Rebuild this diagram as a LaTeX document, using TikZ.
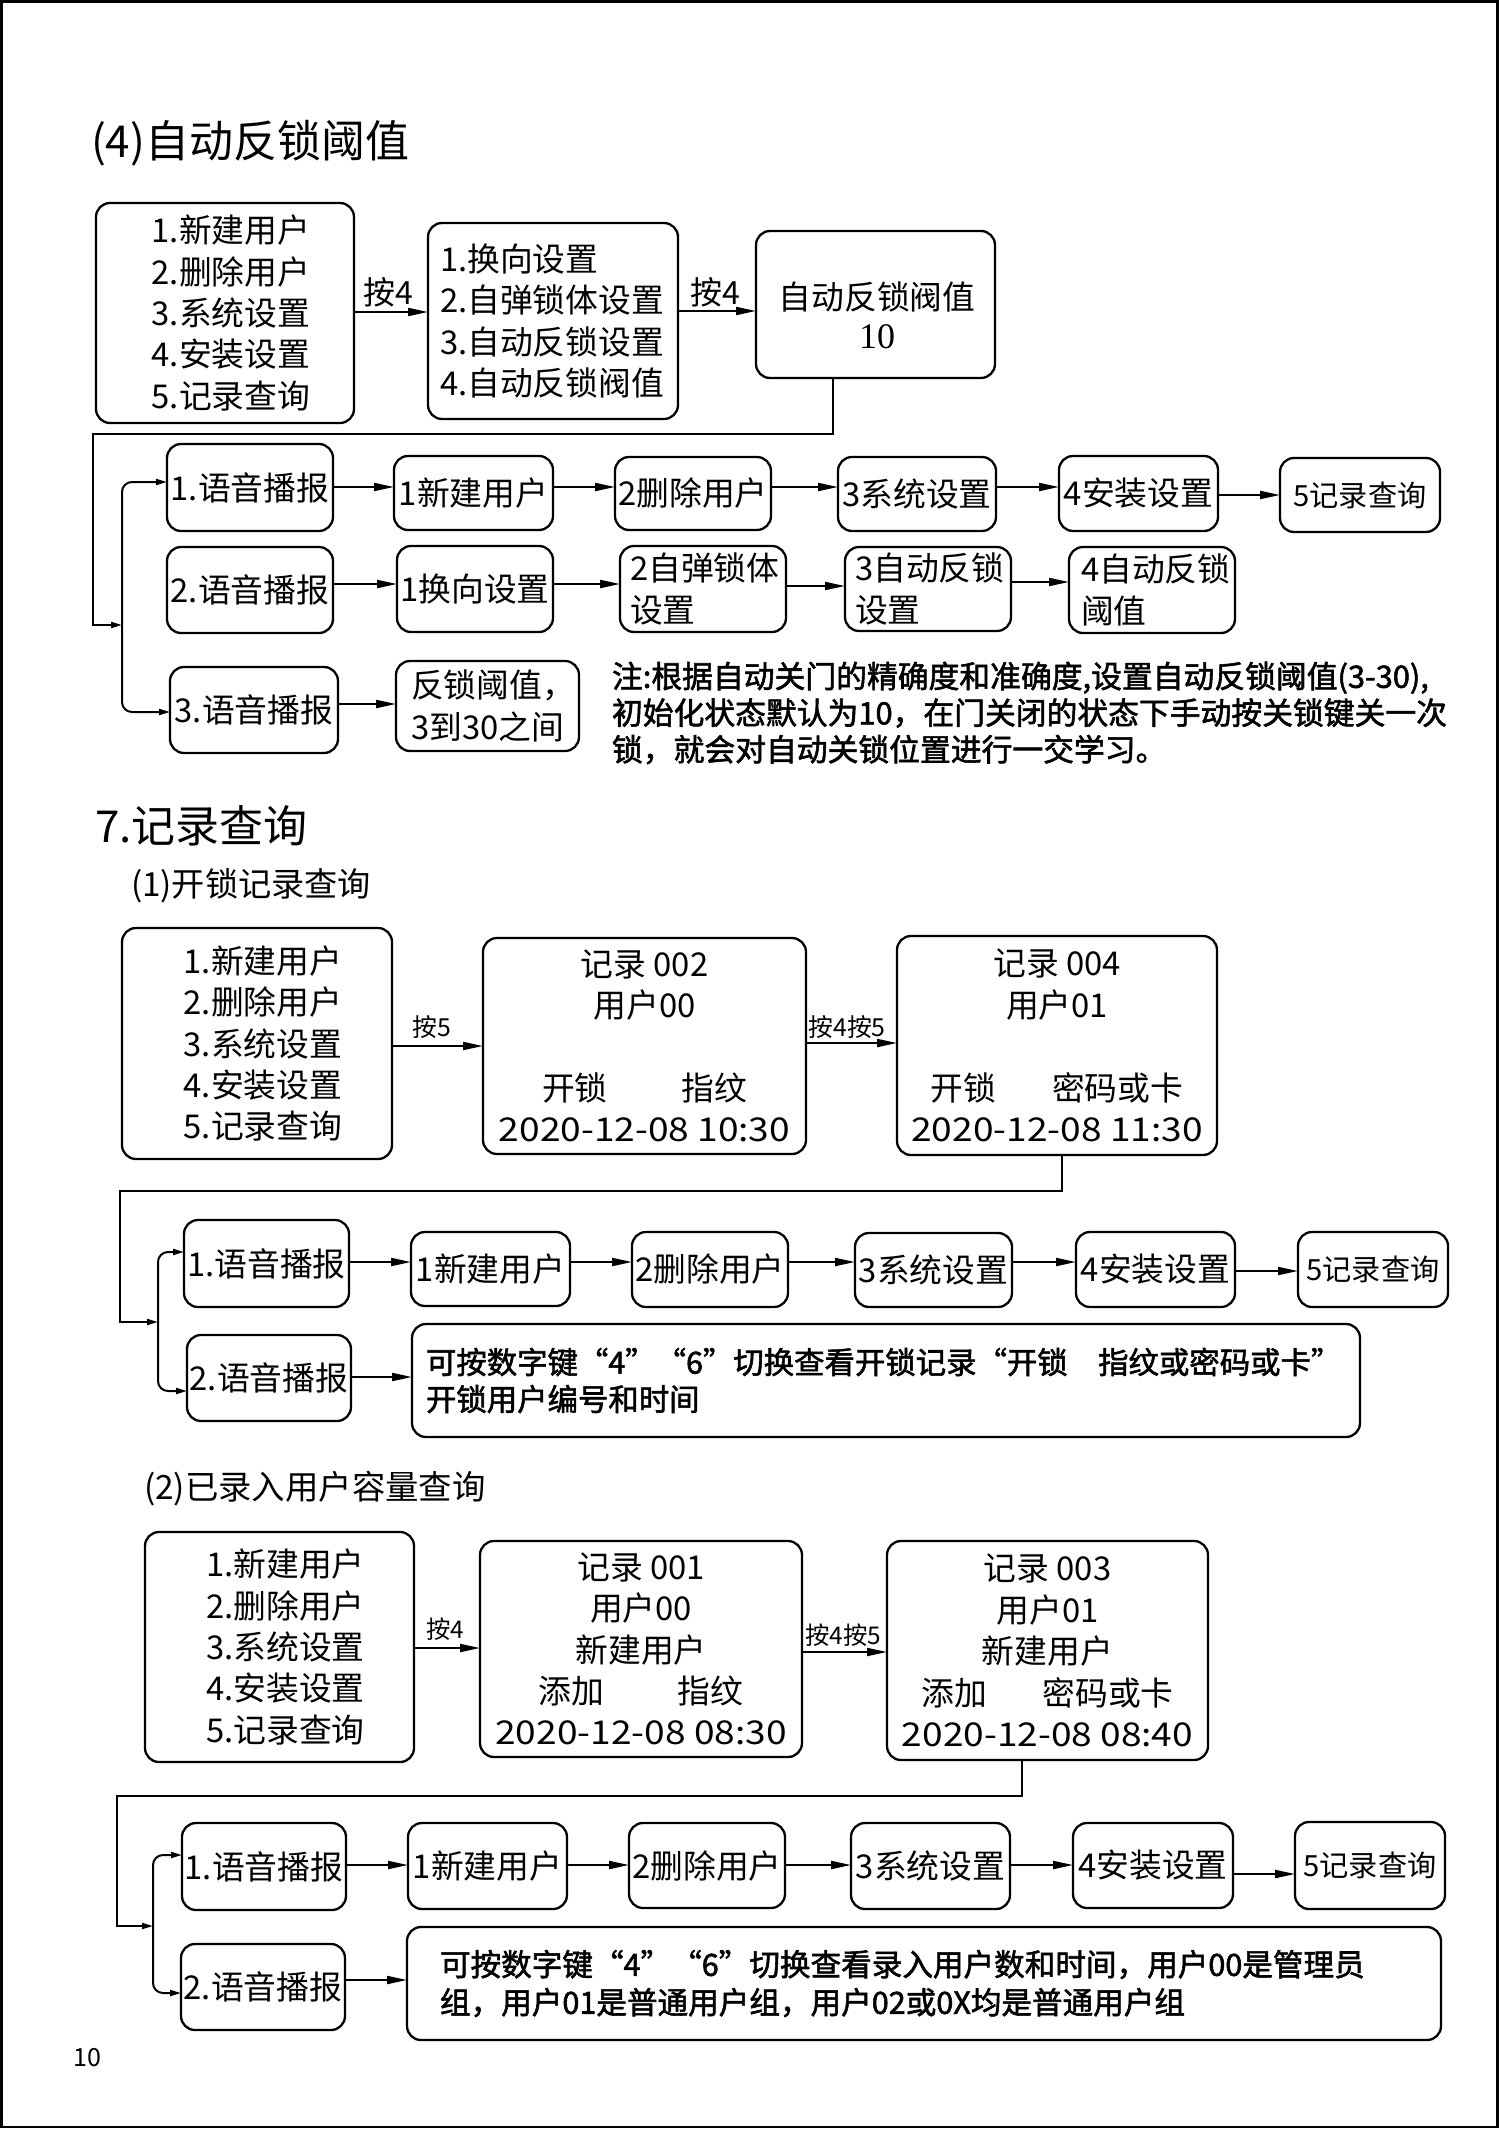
\documentclass[tikz,border=0pt]{standalone}
\usepackage{fontspec}
\usepackage{graphicx}
\setmainfont{Noto Sans CJK SC}
\newfontfamily\serifnum{Liberation Serif}
\newfontfamily\notefont{Noto Sans CJK SC}[FakeBold=1.8]
\usetikzlibrary{arrows.meta}
\newcommand\boxfont{\fontsize{16.4pt}{20.7pt}\selectfont}
\newcommand\smallboxfont{\fontsize{14.6pt}{18pt}\selectfont}
\newcommand\wide[1]{\scalebox{1.13}[1]{#1}}
\newcommand\bx[7][]{\node[box,minimum width={(#5-#3)*0.5pt},minimum height={(#6-#4)*0.5pt},#1] (#2) at ({(#3+#5)/2},{(#4+#6)/2}) {#7};}
\newcommand\harr[3]{\coordinate (tmpy) at (0,#3); \draw[arr] (#1.east |- tmpy) -- (#2.west |- tmpy);}
\tikzset{
  box/.style={draw, line width=1.15pt, rounded corners=7pt, inner sep=0pt, outer sep=0pt, align=center, font=\boxfont},
  arr/.style={-{Triangle[length=10pt,width=4pt]}, line width=1pt},
  sarr/.style={-{Triangle[length=5.5pt,width=3pt]}, line width=1pt},
  lbl/.style={inner sep=0pt, outer sep=0pt},
  title/.style={lbl, anchor=west, font=\fontsize{22pt}{26pt}\selectfont},
}
\begin{document}
\begin{tikzpicture}[x=0.5pt,y=-0.5pt]
\useasboundingbox (0,0) rectangle (1500,2129);
\draw[line width=1.25pt] (1.5,1.5) rectangle (1497.5,2127);

% ---------- section (4)
\node[title] (t1) at (91,143) {(4)自动反锁阈值};
\bx{a1}{96}{203}{354}{423}{\hspace*{6pt}1.新建用户\\\hspace*{6pt}2.删除用户\\\hspace*{6pt}3.系统设置\\\hspace*{6pt}4.安装设置\\\hspace*{6pt}5.记录查询}
\bx[align=left,text width=113pt,inner xsep=6pt]{a2}{428}{223}{678}{419}{1.换向设置\\2.自弹锁体设置\\3.自动反锁设置\\4.自动反锁阀值}
\bx{a3}{756}{231}{995}{378}{}
\node[lbl,align=center,font=\fontsize{16.4pt}{19.5pt}\selectfont] (a3t) at (877,315) {自动反锁阀值\\{\serifnum\fontsize{18pt}{19.5pt}\selectfont 10}};
\harr{a1}{a2}{312}
\node[lbl,font=\fontsize{16pt}{18pt}\selectfont] (l1) at (388,292) {按4};
\harr{a2}{a3}{311}
\node[lbl,font=\fontsize{16pt}{18pt}\selectfont] (l2) at (715,292) {按4};

\bx{b1}{167}{444}{333}{531}{1.语音播报}
\bx{b1b}{394}{456}{553}{530}{1新建用户}
\bx{b1c}{615}{457}{771}{530}{2删除用户}
\bx{b1d}{838}{457}{996}{531}{3系统设置}
\bx{b1e}{1059}{456}{1218}{531}{4安装设置}
\bx[font=\smallboxfont]{b1f}{1280}{458}{1440}{532}{5记录查询}
\harr{b1}{b1b}{487}\harr{b1b}{b1c}{487}\harr{b1c}{b1d}{487}\harr{b1d}{b1e}{487}\harr{b1e}{b1f}{495}

\bx{b2}{167}{547}{333}{633}{2.语音播报}
\bx{b2b}{397}{546}{553}{632}{1换向设置}
\bx[align=left,text width=73pt,inner xsep=5pt]{b2c}{620}{546}{786}{632}{2自弹锁体\\设置}
\bx[align=left,text width=73pt,inner xsep=5pt]{b2d}{845}{547}{1011}{631}{3自动反锁\\设置}
\bx[align=left,text width=71pt,inner xsep=6pt]{b2e}{1069}{547}{1235}{633}{4自动反锁\\阈值}
\harr{b2}{b2b}{584}\harr{b2b}{b2c}{584}\harr{b2c}{b2d}{586}\harr{b2d}{b2e}{582}

\bx{b3}{170}{667}{338}{753}{3.语音播报}
\bx[align=left,text width=76.5pt,inner xsep=7.5pt]{b3b}{397}{661}{578}{751}{反锁阈值，\\3到30之间}
\harr{b3}{b3b}{704}

\node[lbl,align=left,anchor=west,font=\notefont\fontsize{15.4pt}{18.3pt}\selectfont] (n1) at (612,713) {注:根据自动关门的精确度和准确度,设置自动反锁阈值(3-30),\\初始化状态默认为10，在门关闭的状态下手动按关锁键关一次\\锁，就会对自动关锁位置进行一交学习。};

\coordinate (a3s) at (833,378);
\coordinate (j1) at (122,625);
\draw[sarr] (a3s) |- (93,434) |- (j1);
\coordinate (tmpy) at (0,482);
\draw[sarr,rounded corners=5pt] (j1) |- (b1.west |- tmpy);
\coordinate (tmpy) at (0,712);
\draw[sarr,rounded corners=5pt] (j1) |- (b3.west |- tmpy);

% ---------- section 7
\node[title] (t2) at (95,826) {7.记录查询};
\node[lbl,anchor=west,font=\fontsize{16.6pt}{19pt}\selectfont] (t3) at (131,886) {(1)开锁记录查询};

\bx{c1}{122}{928}{392}{1159}{\hspace*{6pt}1.新建用户\\\hspace*{6pt}2.删除用户\\\hspace*{6pt}3.系统设置\\\hspace*{6pt}4.安装设置\\\hspace*{6pt}5.记录查询}
\bx{c2}{483}{938}{806}{1154}{记录 002\\用户00\\[20.7pt]开锁\hspace{2.25em}指纹\\\wide{2020-12-08 10:30}}
\bx{c3}{897}{936}{1217}{1155}{记录 004\\用户01\\[20.7pt]开锁\hspace{1.7em}密码或卡\\\wide{2020-12-08 11:30}}
\harr{c1}{c2}{1046}
\node[lbl,font=\fontsize{12.4pt}{14pt}\selectfont] (l3) at (432,1027) {按5};
\harr{c2}{c3}{1043}
\node[lbl,font=\fontsize{12.4pt}{14pt}\selectfont] (l4) at (847,1027) {按4按5};

\bx{d1}{184}{1220}{349}{1307}{1.语音播报}
\bx{d1b}{411}{1232}{570}{1306}{1新建用户}
\bx{d1c}{632}{1232}{788}{1307}{2删除用户}
\bx{d1d}{855}{1233}{1012}{1307}{3系统设置}
\bx{d1e}{1076}{1232}{1235}{1307}{4安装设置}
\bx[font=\smallboxfont]{d1f}{1298}{1232}{1448}{1307}{5记录查询}
\harr{d1}{d1b}{1262}\harr{d1b}{d1c}{1262}\harr{d1c}{d1d}{1262}\harr{d1d}{d1e}{1262}\harr{d1e}{d1f}{1271}

\bx{d2}{187}{1335}{351}{1421}{2.语音播报}
\bx[align=left,text width=460pt,inner xsep=7pt,font=\notefont\fontsize{15.2pt}{18.5pt}\selectfont]{d2b}{412}{1324}{1360}{1437}{\mbox{可按数字键“4”“6”切换查看开锁记录“开锁\hspace{1em}指纹或密码或卡”}\\开锁用户编号和时间}
\harr{d2}{d2b}{1377}

\coordinate (c3s) at (1062,1155);
\coordinate (j2) at (158,1322);
\draw[sarr] (c3s) |- (120,1191) |- (j2);
\coordinate (tmpy) at (0,1252);
\draw[sarr,rounded corners=5pt] (j2) |- (d1.west |- tmpy);
\coordinate (tmpy) at (0,1391);
\draw[sarr,rounded corners=5pt] (j2) |- (d2.west |- tmpy);

% ---------- (2)
\node[lbl,anchor=west,font=\fontsize{16.7pt}{19pt}\selectfont] (t4) at (144,1489) {(2)已录入用户容量查询};

\bx{e1}{145}{1532}{414}{1762}{\hspace*{6pt}1.新建用户\\\hspace*{6pt}2.删除用户\\\hspace*{6pt}3.系统设置\\\hspace*{6pt}4.安装设置\\\hspace*{6pt}5.记录查询}
\bx{e2}{480}{1541}{802}{1757}{记录 001\\用户00\\新建用户\\添加\hspace{2.25em}指纹\\\wide{2020-12-08 08:30}}
\bx{e3}{887}{1541}{1208}{1760}{记录 003\\用户01\\新建用户\\添加\hspace{1.7em}密码或卡\\\wide{2020-12-08 08:40}}
\harr{e1}{e2}{1648}
\node[lbl,font=\fontsize{12.2pt}{14pt}\selectfont] (l5) at (445,1629) {按4};
\harr{e2}{e3}{1652}
\node[lbl,font=\fontsize{12.2pt}{14pt}\selectfont] (l6) at (843,1635) {按4按5};

\bx{f1}{182}{1823}{346}{1910}{1.语音播报}
\bx{f1b}{408}{1823}{567}{1909}{1新建用户}
\bx{f1c}{629}{1823}{785}{1908}{2删除用户}
\bx{f1d}{851}{1823}{1010}{1909}{3系统设置}
\bx{f1e}{1073}{1823}{1233}{1908}{4安装设置}
\bx[font=\smallboxfont]{f1f}{1295}{1822}{1445}{1909}{5记录查询}
\harr{f1}{f1b}{1865}\harr{f1b}{f1c}{1865}\harr{f1c}{f1d}{1865}\harr{f1d}{f1e}{1865}\harr{f1e}{f1f}{1874}

\bx{f2}{181}{1944}{345}{2030}{2.语音播报}
\bx[align=left,text width=484pt,inner xsep=16.5pt,font=\notefont\fontsize{15.3pt}{19pt}\selectfont]{f2b}{407}{1927}{1441}{2040}{\mbox{可按数字键“4”“6”切换查看录入用户数和时间，用户00是管理员}\\组，用户01是普通用户组，用户02或0X均是普通用户组}
\harr{f2}{f2b}{1980}

\coordinate (e3s) at (1022,1760);
\coordinate (j3) at (153,1926);
\draw[sarr] (e3s) |- (117,1796) |- (j3);
\coordinate (tmpy) at (0,1855);
\draw[sarr,rounded corners=5pt] (j3) |- (f1.west |- tmpy);
\coordinate (tmpy) at (0,1993);
\draw[sarr,rounded corners=5pt] (j3) |- (f2.west |- tmpy);

\node[lbl,font=\fontsize{12.5pt}{14pt}\selectfont] (pg) at (87,2058) {10};
\end{tikzpicture}
\end{document}
